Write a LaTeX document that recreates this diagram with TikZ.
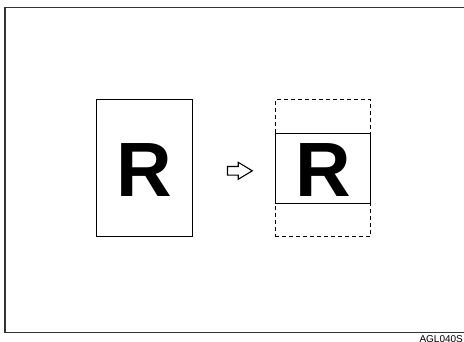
\documentclass[tikz,border=0pt]{standalone}
\usepackage{fontspec}
\setmainfont{Liberation Sans}
\begin{document}
\begin{tikzpicture}[x=1pt,y=-1pt,
  frame/.style={draw=black!80,line width=1.1pt},
  sheet/.style={draw=black,line width=0.9pt,inner sep=0pt,minimum width=95.6pt,minimum height=136.6pt},
  band/.style={draw=black,line width=0.9pt,fill=white,inner sep=0pt,minimum width=95.6pt,minimum height=70.3pt},
  ghost/.style={draw=black,line width=0.9pt,dash pattern=on 4pt off 3pt,inner sep=0pt,minimum width=95.6pt,minimum height=136.6pt},
  letter/.style={inner sep=0pt,font=\fontsize{77}{77}\selectfont\bfseries},
  blockarrow/.style={draw=black,line width=1.1pt,line join=miter}]
\useasboundingbox (0,0) rectangle (464,342);
\draw[frame] (5,7.5) rectangle (466,332.5);
\node[sheet] (src) at (144.5,168) {};
\node[letter] (srcR) at (144.5,170.5) {R};
\node[ghost] (out) at (323,168) {};
\node[band] (img) at (323,168.2) {};
\node[letter] (outR) at (323,170.5) {R};
\coordinate (a1) at (227.5,166.5);
\coordinate (a2) at (238.2,166.5);
\coordinate (a3) at (238.2,162.3);
\coordinate (a4) at (252.3,170.8);
\coordinate (a5) at (238.2,179.3);
\coordinate (a6) at (238.2,175.1);
\coordinate (a7) at (227.5,175.1);
\draw[blockarrow] (a1) -- (a2) -- (a3) -- (a4) -- (a5) -- (a6) -- (a7) -- cycle;
\node[anchor=base west,inner sep=0pt,font=\fontsize{10}{10}\selectfont] (code) at (419.3,342.3) {AGL040S};
\end{tikzpicture}
\end{document}
